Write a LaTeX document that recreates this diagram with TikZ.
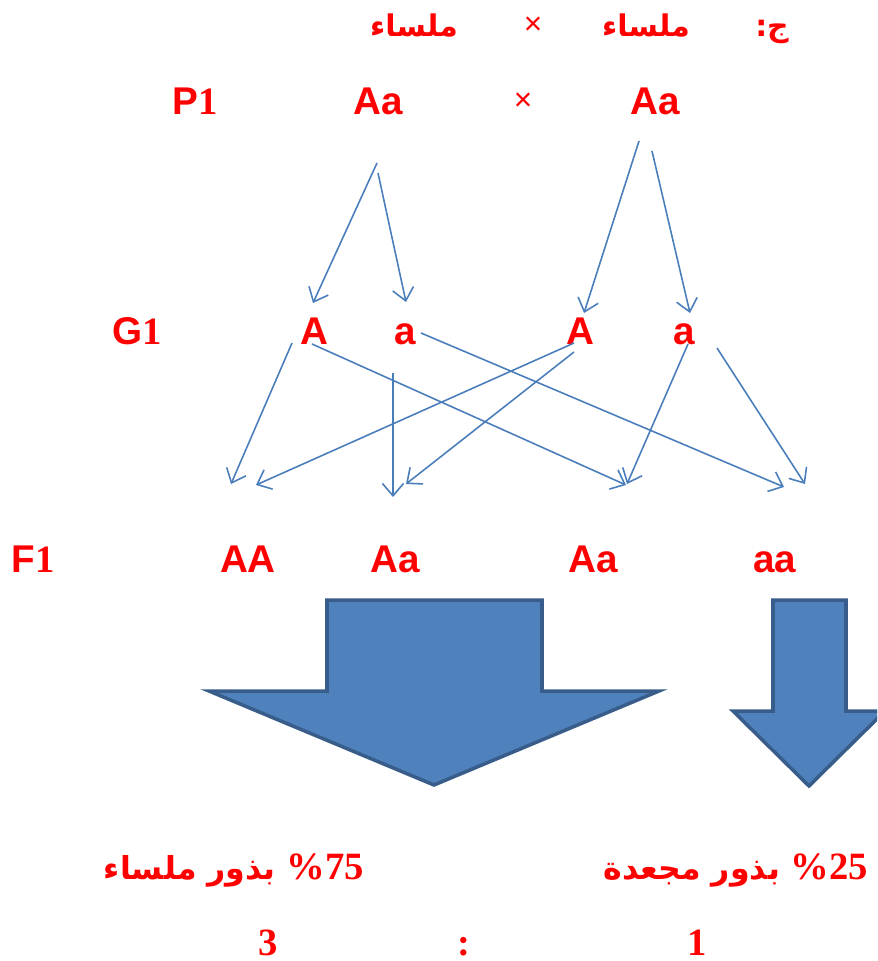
\documentclass[tikz,border=0pt]{standalone}
\usepackage{fontspec}
\setmainfont{Liberation Sans}
\newfontfamily\arabicfont[Script=Arabic]{DejaVu Sans}
\newfontfamily\numfont{Liberation Serif}
\TeXXeTstate=1
\usepackage{tikz}
\usepackage{xcolor}
\usetikzlibrary{arrows.meta}
\definecolor{genered}{HTML}{FF0000}
\definecolor{lineblue}{HTML}{4A7EBB}
\definecolor{shapefill}{HTML}{4F81BD}
\definecolor{shapeline}{HTML}{385D8A}

\begin{document}
\begin{tikzpicture}[
x=0.02cm, y=-0.02cm,
gene/.style={anchor=base, inner sep=0pt, text=genered, font=\bfseries\fontsize{22}{26}\selectfont},
word/.style={anchor=base, inner sep=0pt, text=genered, font=\arabicfont\bfseries\fontsize{17}{21}\selectfont},
result/.style={anchor=base, inner sep=0pt, text=genered, font=\arabicfont\bfseries\fontsize{18}{22}\selectfont},
ratio/.style={anchor=base, inner sep=0pt, text=genered, font=\numfont\bfseries\fontsize{22}{26}\selectfont},
arrow/.style={-{Straight Barb[length=7pt,width=12pt]}, line width=0.9pt, draw=lineblue},
bigarrow/.style={fill=shapefill, draw=shapeline, line width=2pt}
]
\useasboundingbox (0,0) rectangle (877,961);
\clip (0,0) rectangle (877,961);
% cross
\node[word] (ans) at (772,36) {:\beginR ج\endR};
\node[word] (smooth1) at (646,36) {\beginR ملساء\endR};
\node[gene, font=\fontsize{18}{22}\selectfont] (cross1) at (533,34) {×};
\node[word] (smooth2) at (414,36) {\beginR ملساء\endR};
% parents
\node[gene] (p1) at (195,114) {P{\numfont 1}};
\node[gene] (p1l) at (378,114) {Aa};
\node[gene, font=\fontsize{18}{22}\selectfont] (cross2) at (523,110) {×};
\node[gene] (p1r) at (655,114) {Aa};
% gametes
\node[gene] (g1) at (137,344) {G{\numfont 1}};
\node[gene] (gA1) at (314,344) {A};
\node[gene] (ga1) at (405,344) {a};
\node[gene] (gA2) at (580,344) {A};
\node[gene] (ga2) at (684,344) {a};
% offspring
\node[gene] (f1) at (33,572) {F{\numfont 1}};
\node[gene] (fAA) at (248,572) {AA};
\node[gene] (fAa1) at (395,572) {Aa};
\node[gene] (fAa2) at (593,572) {Aa};
\node[gene] (faa) at (775,572) {aa};
% result
\node[result] (smooth) at (234,879) {\beginR{\numfont\fontsize{22}{26}\selectfont\beginL\%75\endL} بذور ملساء\endR};
\node[result] (wrinkled) at (736,879) {\beginR{\numfont\fontsize{22}{26}\selectfont\beginL\%25\endL} بذور مجعدة\endR};
\node[ratio] (three) at (268,955) {3};
\node[ratio] (colon) at (464,955) {:};
\node[ratio] (one) at (697,955) {1};

\draw[arrow] ([shift={(-1,49)}]p1l.base) -- ([shift={(-1,-41)}]gA1.base);
\draw[arrow] ([shift={(0,59)}]p1l.base) -- ([shift={(1,-42)}]ga1.base);
\draw[arrow] ([shift={(-16,27)}]p1r.base) -- ([shift={(4,-31)}]gA2.base);
\draw[arrow] ([shift={(-3,37)}]p1r.base) -- ([shift={(6,-31)}]ga2.base);

\draw[arrow] ([shift={(-22,-1)}]gA1.base) -- ([shift={(-17,-88)}]fAA.base);
\draw[arrow] ([shift={(-2,0)}]gA1.base) -- ([shift={(33,-87)}]fAa2.base);
\draw[arrow] ([shift={(-12,29)}]ga1.base) -- ([shift={(-2,-75)}]fAa1.base);
\draw[arrow] ([shift={(16,-11)}]ga1.base) -- ([shift={(9,-85)}]faa.base);
\draw[arrow] ([shift={(-6,-1)}]gA2.base) -- ([shift={(8,-87)}]fAA.base);
\draw[arrow] ([shift={(-6,8)}]gA2.base) -- ([shift={(11,-88)}]fAa1.base);
\draw[arrow] ([shift={(4,0)}]ga2.base) -- ([shift={(34,-88)}]fAa2.base);
\draw[arrow] ([shift={(33,4)}]ga2.base) -- ([shift={(30,-88)}]faa.base);

% block arrows
\draw[bigarrow] (327,600) -- (542,600) -- (542,691) -- (659,691) -- (434,785) -- (209,691) -- (327,691) -- cycle;
\draw[bigarrow] (773,600) -- (846,600) -- (846,711) -- (885,711) -- (809,786) -- (733,711) -- (773,711) -- cycle;
\end{tikzpicture}
\end{document}
